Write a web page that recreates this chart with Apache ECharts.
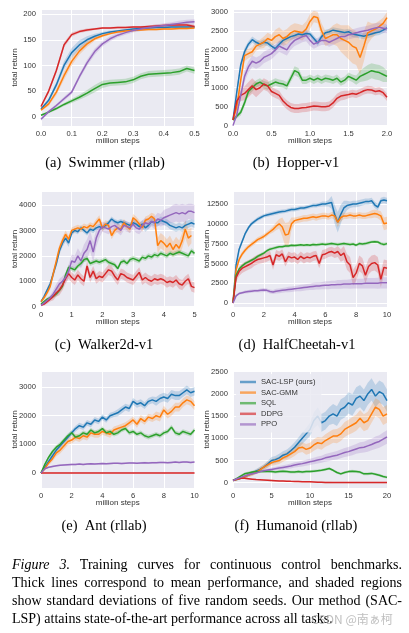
<!DOCTYPE html>
<html><head><meta charset="utf-8">
<script src="https://cdn.jsdelivr.net/npm/echarts@6/dist/echarts.min.js"></script>
<style>html,body{margin:0;padding:0;background:#fff}#c{width:409px;height:633px}</style>
</head><body><div id="c"></div>
<script>
// ---------- DATA ----------
const methods = ['SAC-LSP (ours)', 'SAC-GMM', 'SQL', 'DDPG', 'PPO'];
const colors = ['#1f77b4', '#ff7f0e', '#2ca02c', '#d62728', '#9467bd'];
const titles = ['(a)  Swimmer (rllab)', '(b)  Hopper-v1', '(c)  Walker2d-v1', '(d)  HalfCheetah-v1', '(e)  Ant (rllab)', '(f)  Humanoid (rllab)'];
const xName = 'million steps';
const yName = 'total return';

// (a) Swimmer
const xSwimmer = [0,0.025,0.05,0.075,0.1,0.125,0.15,0.175,0.2,0.225,0.25,0.275,0.3,0.325,0.35,0.375,0.4,0.425,0.45,0.475,0.5];
const meanSwimmer = [
  [15,32,62,100,125,140,150,157,162,165,167,169,171,172,173,174,174,175,175,175,175],
  [13,25,48,80,108,128,142,152,158,162,165,167,168,169,170,170,171,171,172,172,173],
  [3,9,16,24,31,38,46,55,63,66,67,68,72,79,83,84,85,86,88,94,90],
  [20,50,90,140,160,166,169,171,173,173,174,174,175,175,176,177,178,179,179,179,176],
  [-5,10,22,35,48,78,105,127,142,152,159,164,168,171,174,176,178,180,182,184,185]
];
const sdSwimmer = [
  [2,4,6,8,9,9,7,5,3,3,2,2,2,2,2,2,2,2,2,2,2],
  [2,4,6,8,8,7,6,4,3,2,2,2,2,2,2,2,2,2,2,2,2],
  [2,2,3,3,4,5,6,7,7,6,6,6,6,6,6,6,6,6,6,6,6],
  [3,4,5,5,4,3,3,2,2,2,2,2,2,2,2,3,3,3,3,3,3],
  [3,3,3,4,4,5,6,6,5,5,4,4,4,4,4,4,4,4,5,5,5]
];

// (b) Hopper
const xHopper = [0,0.05,0.1,0.15,0.2,0.25,0.3,0.35,0.4,0.45,0.5,0.55,0.6,0.65,0.7,0.75,0.8,0.85,0.9,0.95,1.0,1.05,1.1,1.15,1.2,1.25,1.3,1.35,1.4,1.45,1.5,1.55,1.6,1.65,1.7,1.75,1.8,1.85,1.9,1.95,2.0];
const meanHopper = [
  [150,900,1600,1950,2150,2270,2200,2150,2200,2180,2100,2030,2150,2250,2300,2350,2380,2420,2400,2430,2420,2300,2180,2350,2450,2480,2520,2500,2480,2460,2480,2420,2400,2380,2360,2390,2420,2450,2470,2520,2580],
  [150,500,1200,1850,1900,1950,2100,2150,2200,2300,2250,2350,2400,2300,2350,2450,2500,2480,2450,2550,2750,2880,2850,2500,2300,2350,2400,2400,2300,2250,2200,2100,2050,1800,2100,2450,2500,2550,2620,2700,2850],
  [150,250,350,600,900,1000,1100,1150,1080,1050,1100,1150,1120,1100,1050,1250,1450,1400,1200,1200,1250,1200,1250,1200,1250,1230,1200,1250,1150,1200,1300,1250,1200,1300,1350,1400,1450,1420,1400,1350,1300],
  [150,650,800,850,950,1050,950,1000,1100,1050,900,850,800,650,550,480,450,450,470,480,500,520,510,500,500,520,600,720,780,800,820,850,830,870,920,950,940,900,920,870,750],
  [0,300,800,1300,1550,1700,1650,1700,1800,1850,1900,2000,2100,2050,2000,2150,2250,2300,2350,2380,2250,2150,2200,2250,2250,2200,2250,2300,2350,2350,2400,2420,2450,2480,2500,2520,2550,2580,2600,2570,2560]
];
const sdHopper = [
  [30,100,100,100,80,80,80,80,80,80,80,80,80,80,80,80,80,80,80,80,80,80,80,80,80,80,80,80,80,80,80,80,80,80,80,80,80,80,80,80,80],
  [50,100,150,150,120,120,120,120,150,150,150,180,200,200,200,200,200,200,200,200,200,150,150,200,200,200,250,300,350,400,450,450,450,450,400,300,200,150,150,150,150],
  [30,60,80,100,100,100,100,100,100,100,100,100,100,100,100,100,120,120,100,100,100,100,100,100,100,100,100,100,100,100,100,100,120,150,180,200,200,200,200,200,150],
  [30,100,150,180,200,200,200,150,150,150,120,120,120,120,120,120,120,120,120,120,120,120,120,120,120,120,120,120,120,120,100,100,100,100,100,100,100,100,100,100,100],
  [30,80,120,150,150,150,150,150,150,150,150,150,150,150,150,150,150,150,150,150,150,120,120,120,120,120,120,120,120,120,120,120,120,120,120,120,120,120,120,120,120]
];

// (c) Walker2d
const xWalker = [0,0.1,0.2,0.3,0.4,0.5,0.6,0.7,0.8,0.9,1,1.1,1.2,1.3,1.4,1.5,1.6,1.7,1.8,1.9,2,2.1,2.2,2.3,2.4,2.5,2.6,2.7,2.8,2.9,3,3.1,3.2,3.3,3.4,3.5,3.6,3.7,3.8,3.9,4,4.1,4.2,4.3,4.4,4.5,4.6,4.7,4.8,4.9,5];
const meanWalker = [
  [200,400,650,900,1300,1700,2200,2500,2700,2500,2900,3000,2950,3100,3000,2900,3050,3000,3100,3150,3100,3200,3300,3450,3350,3300,3350,3300,3250,3200,3300,3250,3150,3250,3100,3200,3350,3300,3300,3400,3350,3300,3200,3150,3100,3150,3100,3200,3250,3300,3250],
  [200,350,550,800,1300,1800,2300,2600,2850,2650,3000,3050,3100,3050,3150,3100,3200,3150,3300,3450,3100,3250,3200,2800,3000,3100,3050,3300,3150,3050,3500,3400,3250,3100,3400,3450,3550,3450,2400,2600,2500,2350,2500,2250,2450,2300,2600,3050,2700,2800,null],
  [100,200,300,350,420,500,650,800,1250,1550,1500,1450,1600,1700,1850,1900,1700,1750,1800,1750,1800,1850,1750,1700,1650,1500,1750,1800,1700,1850,1900,1850,1800,1950,1900,2000,1950,2050,2000,2100,2050,2000,2100,2050,2100,2150,2100,2050,2000,2200,2100],
  [50,100,200,300,400,550,650,850,1100,1300,1150,1050,1250,1100,1000,1600,1150,1400,1100,1200,1150,1300,1450,1400,1200,1050,1300,1250,1150,1100,1050,1200,1350,1050,1150,1050,1000,1100,1050,1100,1050,950,1000,950,1050,900,850,1000,1100,800,750],
  [50,150,250,350,500,700,900,1000,1150,1400,1800,1750,2000,1800,2100,2250,2600,2150,2700,3000,3150,3100,3050,3150,3200,3100,3000,3200,3150,3100,3250,3100,3050,3200,3300,3250,3350,3300,3450,3400,3500,3550,3600,3650,3700,3650,3700,3650,3750,3750,3700]
];
const sdWalker = [
  [50,80,100,120,150,150,150,150,150,150,100,100,100,100,100,100,100,100,100,100,100,100,100,100,100,100,100,100,100,100,150,150,150,150,150,150,150,150,150,150,150,150,150,150,150,150,150,150,150,150,150],
  [50,80,100,120,150,150,150,150,150,150,120,120,120,120,120,120,120,120,150,150,150,150,150,150,150,150,150,150,150,150,150,150,150,150,150,150,150,200,300,300,300,300,300,300,300,300,300,350,350,300,null],
  [30,50,60,80,80,100,100,100,100,100,100,100,100,100,100,100,100,100,100,100,100,100,100,100,100,100,100,100,100,100,100,100,100,100,100,100,100,100,100,100,100,100,100,100,100,100,100,100,100,100,100],
  [30,50,80,100,150,150,200,200,200,200,200,200,200,200,200,200,200,200,200,200,200,200,200,200,200,200,200,200,200,200,200,200,200,200,200,200,200,200,200,200,200,200,200,200,200,200,200,200,200,200,200],
  [30,50,80,100,150,200,200,200,200,250,250,250,300,300,350,400,400,400,350,300,200,200,200,200,200,200,200,200,200,200,200,200,200,200,200,200,200,250,250,250,300,300,300,350,350,350,350,350,300,300,300]
];

// (d) HalfCheetah
const xCheetah = [0,0.2,0.4,0.6,0.8,1,1.2,1.4,1.6,1.8,2,2.2,2.4,2.6,2.8,3,3.2,3.4,3.6,3.8,4,4.2,4.4,4.6,4.8,5,5.2,5.4,5.6,5.8,6,6.2,6.4,6.6,6.8,7,7.2,7.4,7.6,7.8,8,8.2,8.4,8.6,8.8,9,9.2,9.4,9.6,9.8,10];
const meanCheetah = [
  [0,4800,6800,7800,8800,9500,10000,10300,10600,10800,11000,11100,11200,11300,11400,11500,11550,11600,11700,11800,11800,11900,12000,12000,12100,12200,12300,12300,12400,12500,12500,12600,12700,11200,10200,11200,12000,12300,12400,12500,12500,12600,12700,12800,12800,12900,12400,12100,12900,13000,12900],
  [0,4200,5500,6200,6700,7100,7400,7700,8000,8200,8400,8700,9000,9300,9700,10000,9600,8600,8700,10000,10400,10500,10600,10700,10700,10800,10900,10800,10900,11000,11000,10900,11100,11000,10200,10800,11000,11000,11100,11000,11000,11100,11000,11000,11100,11200,11300,11200,11000,10000,10100],
  [0,3500,4300,4700,5000,5200,5400,5600,5900,6100,6300,6600,6800,6900,7000,7100,7100,7200,7200,7300,7250,7300,7350,7300,7350,7300,7400,7350,7400,7450,7400,7450,7500,7450,7400,7450,7500,7450,7400,7450,7300,7500,7450,7500,7600,7700,7750,7700,7500,7400,7500],
  [0,3200,4000,4400,4600,4800,5000,5300,5500,5600,5700,5800,6000,4800,6100,5900,6200,5200,5900,5700,5800,5500,5900,5600,5800,5700,5900,6000,5000,6100,6200,6400,6500,6300,6500,6000,6300,5200,4800,3200,3800,5000,4700,3500,4600,5000,5100,4800,3000,4500,4400],
  [0,900,1200,1300,1400,1450,1500,1550,1550,1600,1650,1600,1450,1400,1500,1550,1600,1650,1700,1750,1800,1850,1900,1950,2000,2050,2100,2150,2150,2200,2250,2250,2300,2300,2350,2350,2400,2400,2400,2450,2450,2450,2450,2500,2500,2500,2500,2500,2550,2550,2550]
];
const sdCheetah = [
  [0,300,300,300,250,250,250,250,250,250,250,250,250,250,250,250,250,250,250,250,250,250,250,250,250,250,250,250,250,300,300,400,800,1200,1300,1200,900,600,400,400,400,400,400,400,400,400,400,400,400,400,400],
  [0,300,300,300,300,300,300,300,300,300,300,300,300,400,500,600,1200,1500,1500,800,400,400,400,400,400,400,400,400,400,400,400,400,400,500,600,500,400,400,400,400,400,400,400,400,400,500,500,500,600,800,800],
  [0,200,200,200,200,200,200,200,200,200,200,200,200,200,200,200,200,200,200,200,200,200,200,200,200,200,200,200,200,200,200,200,200,200,200,200,200,200,200,200,200,200,200,200,200,200,200,200,200,200,200],
  [0,500,600,600,600,600,600,600,600,600,600,600,600,600,600,600,600,600,600,600,600,600,600,600,600,600,600,600,600,600,600,600,600,600,700,800,900,1000,1000,1000,1000,1000,1000,1000,1000,1000,1000,1000,1000,1000,1000],
  [0,150,150,150,200,200,200,200,200,250,250,250,250,250,300,300,300,300,350,350,350,350,400,400,400,400,450,450,450,450,500,500,500,500,550,550,550,550,600,600,600,600,600,650,650,650,650,700,700,700,700]
];

// (e) Ant
const xAnt = [0,0.25,0.5,0.75,1,1.25,1.5,1.75,2,2.25,2.5,2.75,3,3.25,3.5,3.75,4,4.25,4.5,4.75,5,5.25,5.5,5.75,6,6.25,6.5,6.75,7,7.25,7.5,7.75,8,8.25,8.5,8.75,9,9.25,9.5,9.75,10];
const meanAnt = [
  [0,200,400,600,800,950,1100,1250,1400,1550,1650,1600,1750,1700,1850,1800,1950,1850,2000,2050,2100,2200,2300,2250,2500,2400,2450,2350,2500,2550,2500,2600,2650,2600,2750,2700,2700,2800,2900,2800,2850],
  [0,150,350,500,700,800,950,1100,1150,1250,1200,1300,1250,1400,1350,1350,1450,1400,1350,1500,1550,1600,1650,1750,1850,1700,1900,1800,1950,1900,2000,1950,2200,2050,2150,2300,2300,2450,2550,2500,2350],
  [0,300,550,750,900,1000,1150,1300,1400,1250,1300,1400,1350,1500,1400,1450,1550,1400,1450,1350,1400,1500,1550,1400,1450,1350,1400,1300,1250,1300,1350,1300,1400,1450,1600,1400,1350,1450,1400,1350,1500],
  [0,0,0,0,0,0,0,0,0,0,0,0,0,0,0,0,0,0,0,0,0,0,0,0,0,0,0,0,0,0,0,0,0,0,0,0,0,0,0,0,0],
  [0,150,200,230,250,270,280,290,300,300,310,300,310,320,310,320,330,320,330,340,340,330,340,350,350,340,350,360,350,360,360,370,370,360,370,380,370,380,380,370,380]
];
const sdAnt = [
  [20,50,80,100,100,100,100,100,100,100,100,100,100,100,100,100,100,100,100,100,120,120,120,120,120,120,120,120,120,120,150,150,150,150,150,150,150,150,150,150,150],
  [20,50,80,100,120,120,120,120,120,120,120,120,120,120,120,120,120,120,120,120,120,120,120,120,120,120,120,120,120,120,150,150,150,150,150,150,150,150,150,150,150],
  [20,50,60,80,80,80,80,80,80,80,80,80,80,80,80,80,80,80,80,80,80,80,80,80,80,80,80,80,80,80,80,80,80,80,80,80,80,80,80,80,80],
  [15,15,15,15,15,15,15,15,15,15,15,15,15,15,15,15,15,15,15,15,15,15,15,15,15,15,15,15,15,15,15,15,15,15,15,15,15,15,15,15,15],
  [10,30,30,30,30,30,30,30,30,30,30,30,30,30,30,30,30,30,30,30,30,30,30,30,30,30,30,30,30,30,30,30,30,30,30,30,30,30,30,30,30]
];

// (f) Humanoid
const xHumanoid = [0,0.5,1,1.5,2,2.5,3,3.5,4,4.5,5,5.5,6,6.5,7,7.5,8,8.5,9,9.5,10,10.5,11,11.5,12,12.5,13,13.5,14,14.5,15,15.5,16,16.5,17,17.5,18,18.5,19,19.5,20];
const meanHumanoid = [
  [50,70,100,130,170,210,260,300,350,420,500,520,560,620,650,720,800,900,1000,1100,1200,1400,1500,1350,1400,1500,1550,1500,1650,1700,1800,1750,1900,1950,1850,2000,2100,1950,2050,2000,1850],
  [50,70,100,130,170,200,240,290,350,400,450,480,500,560,600,650,700,780,800,750,780,850,900,880,950,1000,1050,1050,1100,1200,1250,1300,1350,1450,1350,1400,1550,1700,1650,1500,1550],
  [50,100,150,200,220,240,250,250,250,260,250,240,250,260,250,240,240,250,240,250,250,260,270,280,300,320,280,230,200,230,250,260,250,240,200,200,210,190,170,140,120],
  [50,80,100,100,90,80,70,65,60,55,50,45,40,38,35,32,30,27,24,22,20,15,10,8,5,5,3,3,3,3,3,3,3,3,3,3,3,3,3,3,3],
  [50,90,120,150,180,200,220,250,270,285,300,315,330,345,360,375,400,415,430,450,470,490,510,530,560,580,600,620,650,680,700,730,760,790,800,830,860,900,930,980,1030]
];
const sdHumanoid = [
  [10,15,20,30,40,50,50,60,60,70,80,80,90,90,100,100,110,120,130,140,150,180,200,200,200,200,220,220,230,230,240,240,250,250,250,250,250,250,250,250,250],
  [10,15,20,30,40,50,50,60,60,70,70,80,80,90,90,100,100,110,110,120,120,130,130,140,140,150,150,160,160,170,170,180,180,190,190,200,200,200,200,200,200],
  [10,20,30,30,30,30,30,30,30,30,30,30,30,30,30,30,30,30,30,30,30,30,30,30,30,30,30,30,30,30,30,30,30,30,30,30,30,30,30,30,30],
  [10,15,15,15,15,15,15,15,15,15,15,15,15,15,15,15,15,15,15,15,15,15,15,15,15,15,15,15,15,15,15,15,15,15,15,15,15,15,15,15,15],
  [10,10,15,20,20,25,25,30,30,35,40,40,45,50,50,55,60,60,65,70,70,75,80,80,85,90,90,95,100,100,105,110,110,120,120,130,130,140,140,150,150]
];

// y tick steps and x tick steps
const yTickSteps = [50, 500, 1000, 2500, 1000, 500];
const xTickSteps = [0.1, 0.5, 1, 2, 2, 5];

const captionLines = [
  [['Figure', true], ['3.', true], ['Training', false], ['curves', false], ['for', false], ['continuous', false], ['control', false], ['benchmarks.', false]],
  'Thick lines correspond to mean performance, and shaded regions',
  'show standard deviations of five random seeds. Our method (SAC-',
  'LSP) attains state-of-the-art performance across all tasks.'
];

// ---------- LAYOUT ----------
const panels = [
  {x:xSwimmer, mean:meanSwimmer, sd:sdSwimmer, ymin:-18, ymax:210, xmax:0.5, xdec:1, left:41, top:9, width:153.5, height:117, cx:105, cy:163},
  {x:xHopper, mean:meanHopper, sd:sdHopper, ymin:-10, ymax:3079, xmax:2, xdec:1, left:233, top:9, width:154, height:117, cx:296, cy:163},
  {x:xWalker, mean:meanWalker, sd:sdWalker, ymin:-12, ymax:4551, xmax:5, xdec:0, left:41, top:191, width:153.5, height:116, cx:104, cy:345},
  {x:xCheetah, mean:meanCheetah, sd:sdCheetah, ymin:-500, ymax:14141, xmax:10, xdec:0, left:233, top:191, width:154, height:116, cx:297, cy:345},
  {x:xAnt, mean:meanAnt, sd:sdAnt, ymin:-524, ymax:3559, xmax:10, xdec:0, left:41, top:371, width:153.5, height:117, cx:104, cy:526},
  {x:xHumanoid, mean:meanHumanoid, sd:sdHumanoid, ymin:-119, ymax:2516, xmax:20, xdec:0, left:233, top:371, width:154, height:117, cx:296, cy:526}
];

const TXT = '#333';
const SANS = '"Liberation Sans", Arial, sans-serif';
const SERIF = '"Liberation Serif", "Times New Roman", serif';

function rgba(hex, a) {
  const n = parseInt(hex.slice(1), 16);
  return 'rgba(' + (n >> 16) + ',' + ((n >> 8) & 255) + ',' + (n & 255) + ',' + a + ')';
}

const grid = [], xAxis = [], yAxis = [], series = [];
panels.forEach((p, gi) => {
  grid.push({left:p.left, top:p.top, width:p.width, height:p.height, show:true, backgroundColor:'#EAEAF2', borderWidth:0, containLabel:false, outerBoundsMode:'none'});
  const xs = xTickSteps[gi], ys = yTickSteps[gi];
  xAxis.push({
    gridIndex:gi, type:'value', min:0, max:p.xmax, interval:xs,
    axisLine:{show:false}, axisTick:{show:false},
    splitLine:{show:true, lineStyle:{color:'#ffffff', width:1}},
    axisLabel:{fontSize:7.6, color:TXT, fontFamily:SANS, margin:4, formatter:v => p.xdec ? v.toFixed(p.xdec) : String(Math.round(v))},
    name:xName, nameLocation:'middle', nameGap:10.5, nameMoveOverlap:false,
    nameTextStyle:{fontSize:8, color:TXT, fontFamily:SANS}
  });
  yAxis.push({
    gridIndex:gi, type:'value', min:p.ymin, max:p.ymax, minInterval:ys, maxInterval:ys,
    axisLine:{show:false}, axisTick:{show:false},
    splitLine:{show:true, lineStyle:{color:'#ffffff', width:1}},
    axisLabel:{fontSize:7.6, color:TXT, fontFamily:SANS, margin:5,
      formatter:v => (Math.abs(v / ys - Math.round(v / ys)) < 1e-6 ? String(Math.round(v)) : '')},
    name:yName, nameLocation:'middle', nameGap:22, nameMoveOverlap:false,
    nameTextStyle:{fontSize:8, color:TXT, fontFamily:SANS}
  });
  p.mean.forEach((m, k) => {
    const band = [];
    p.x.forEach((x, i) => { if (m[i] != null) band.push([x, m[i] - p.sd[k][i], m[i] + p.sd[k][i]]); });
    const fill = rgba(colors[k], 0.22);
    series.push({
      type:'custom', name:'band' + gi + '_' + k, xAxisIndex:gi, yAxisIndex:gi, data:band,
      encode:{x:0, y:[1, 2]}, silent:true, z:1, clip:true, animation:false,
      renderItem:(params, api) => {
        if (params.dataIndex !== 0) return null;
        const up = [], lo = [];
        for (const d of band) { up.push(api.coord([d[0], d[2]])); lo.push(api.coord([d[0], d[1]])); }
        return {type:'polygon', shape:{points:up.concat(lo.reverse())}, style:{fill:fill}};
      }
    });
  });
  p.mean.forEach((m, k) => {
    series.push({
      type:'line', name:methods[k], xAxisIndex:gi, yAxisIndex:gi,
      data:p.x.map((x, i) => [x, m[i]]), symbol:'none', showSymbol:false,
      lineStyle:{width:1.5, color:colors[k]}, itemStyle:{color:colors[k]},
      z:3, animation:false, silent:true, clip:true, connectNulls:false
    });
  });
});

// ---------- TEXT GRAPHICS ----------
const graphic = [];
panels.forEach((p, gi) => {
  graphic.push({type:'text', x:p.cx, y:p.cy, silent:true,
    style:{text:titles[gi], font:'14.5px ' + SERIF, fill:'#000', align:'center', verticalAlign:'middle', textAlign:'center', textVerticalAlign:'middle'}});
});

const mctx = document.createElement('canvas').getContext('2d');
function tw(t, font) { mctx.font = font; return mctx.measureText(t).width; }
const CAP_L = 12, CAP_R = 402, CAP_Y = [565, 583, 601, 619];
const lineWords = captionLines.map(l => Array.isArray(l) ? l : l.split(' ').map(w => [w, false]));
let fs = 14;
function natural(words, size) {
  let w = 0;
  words.forEach((wd, i) => { w += tw(wd[0], (wd[1] ? 'italic ' : '') + size + 'px ' + SERIF); if (i) w += tw(' ', size + 'px ' + SERIF); });
  return w;
}
const maxNat = Math.max(natural(lineWords[1], 14), natural(lineWords[2], 14), natural(lineWords[0], 14));
if (maxNat > CAP_R - CAP_L) fs = 14 * (CAP_R - CAP_L) / maxNat;
lineWords.forEach((words, li) => {
  const fonts = words.map(wd => (wd[1] ? 'italic ' : '') + fs + 'px ' + SERIF);
  const widths = words.map((wd, i) => tw(wd[0], fonts[i]));
  const sum = widths.reduce((a, b) => a + b, 0);
  const last = li === lineWords.length - 1;
  const gap = last ? tw(' ', fs + 'px ' + SERIF) : (CAP_R - CAP_L - sum) / (words.length - 1);
  let x = CAP_L;
  words.forEach((wd, i) => {
    graphic.push({type:'text', x:x, y:CAP_Y[li], silent:true,
      style:{text:wd[0], font:fonts[i], fill:'#000', align:'left', verticalAlign:'middle', textAlign:'left', textVerticalAlign:'middle'}});
    x += widths[i] + gap;
  });
});
graphic.push({type:'text', x:352, y:619, silent:true, z:100,
  style:{text:'CSDN @南ぁ柯', font:'12px "Noto Sans CJK SC", sans-serif', fill:'rgba(170,170,170,0.75)', align:'center', verticalAlign:'middle', textAlign:'center', textVerticalAlign:'middle'}});

// ---------- CHART ----------
const chart = echarts.init(document.getElementById('c'), null, {renderer:'canvas'});
chart.setOption({
  animation:false,
  backgroundColor:'#ffffff',
  grid, xAxis, yAxis, series, graphic,
  legend:{
    data:methods, left:236, top:374, orient:'vertical', icon:'rect',
    itemWidth:16, itemHeight:2.5, itemGap:2.6, padding:[4, 6, 4, 4], selectedMode:false,
    backgroundColor:'rgba(234,234,242,0.85)', borderRadius:2, z:10,
    itemStyle:{opacity:0.65},
    textStyle:{fontSize:7.6, color:TXT, fontFamily:SANS, lineHeight:8}
  }
});
</script></body></html>
